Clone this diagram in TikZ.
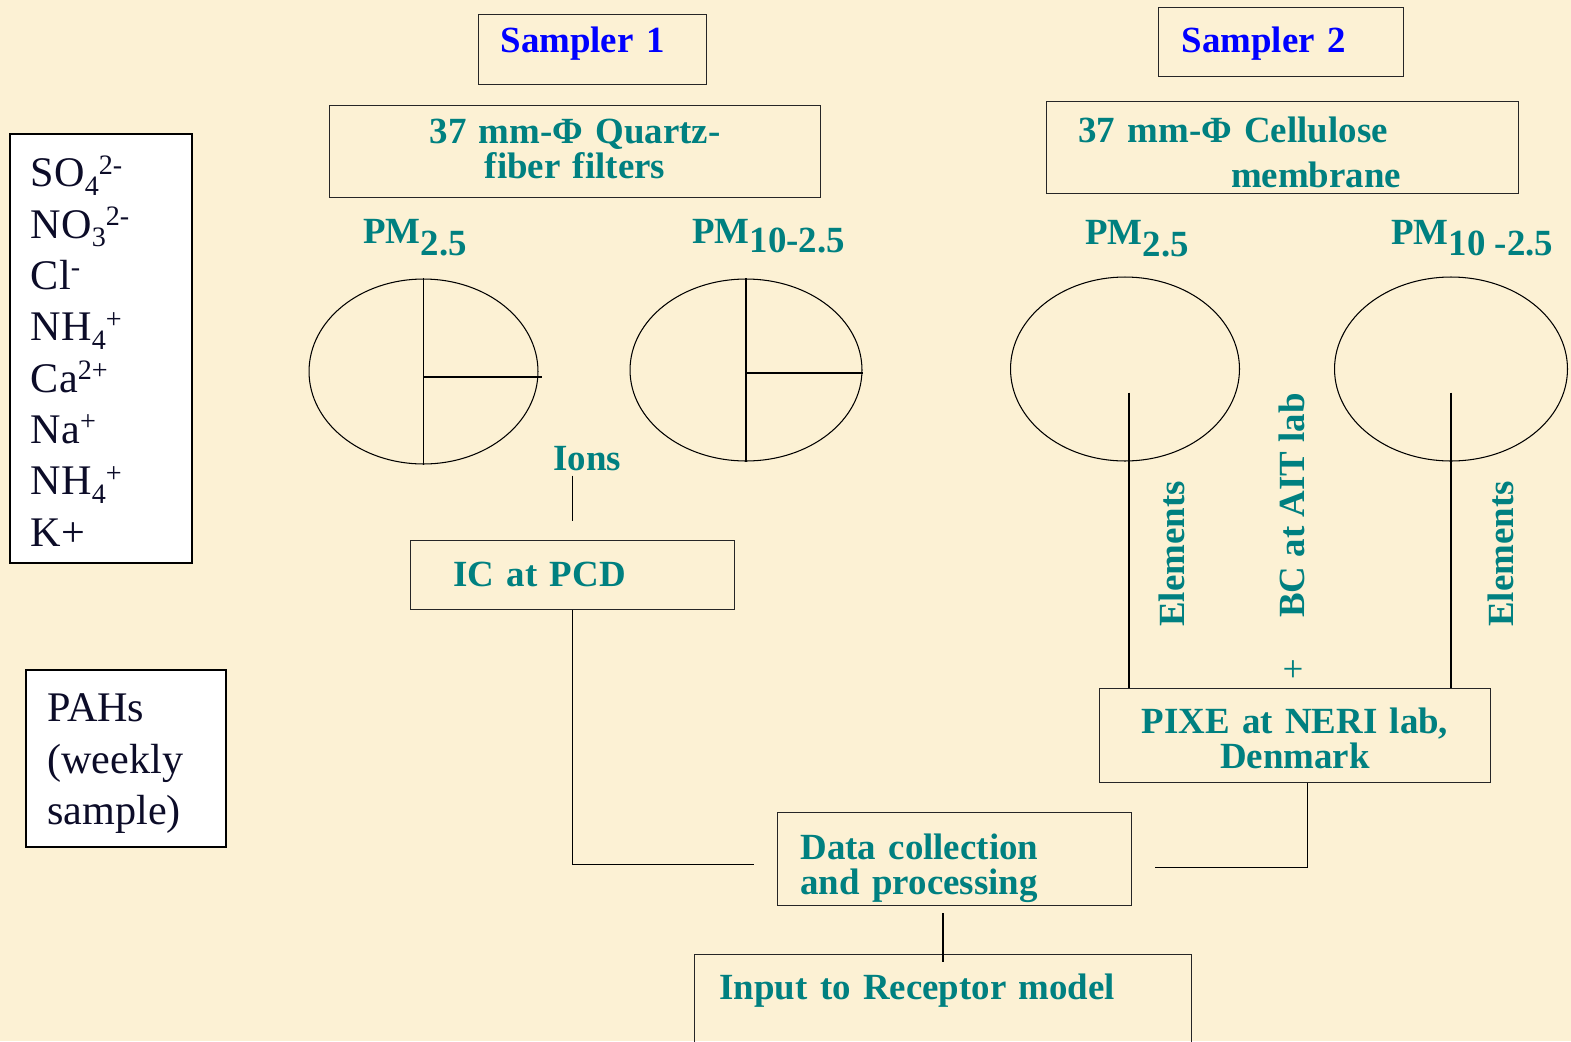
\documentclass[tikz,border=0pt]{standalone}
\usepackage{fontspec}
\setmainfont{Liberation Serif}
\usetikzlibrary{shapes.geometric, positioning}
\definecolor{bgcream}{RGB}{252,241,212}
\definecolor{tealtxt}{RGB}{0,128,128}
\definecolor{inktxt}{RGB}{12,12,40}
\newcommand{\ionsub}[1]{\raisebox{-0.2em}{\fontsize{16}{16}\selectfont #1}}
\newcommand{\ionsup}[1]{\raisebox{0.3em}{\fontsize{16}{16}\selectfont #1}}
\tikzstyle{boxnode} = [rectangle, draw=black!85, line width=0.6pt, anchor=north west, inner ysep=0pt]
\tikzstyle{listbox} = [boxnode, draw=black, line width=1.1pt, fill=white, align=left, text=inktxt, font=\fontsize{24}{29.2}\selectfont]
\tikzstyle{samplertext} = [text=blue, font=\bfseries\fontsize{21}{20}\selectfont]
\tikzstyle{tealtext} = [text=tealtxt, font=\bfseries\fontsize{21}{20}\selectfont]
\tikzstyle{disc} = [ellipse, draw=black, line width=0.6pt, inner sep=0pt]
\tikzstyle{wire} = [draw=black, line width=0.6pt]

\begin{document}
\begin{tikzpicture}[x=0.02cm, y=-0.02cm]
        \fill[bgcream] (0,0) rectangle (1571,1041);
        \useasboundingbox (0,0) rectangle (1571,1041);

        % samplers and filters
        \node (sampler1) [boxnode, samplertext, align=left, text width=3.68cm, inner xsep=0.44cm, text height=0.76cm, text depth=0.64cm] at (478,14) {Sampler 1};
        \node (sampler2) [boxnode, samplertext, align=left, text width=3.98cm, inner xsep=0.46cm, text height=0.9cm, text depth=0.48cm] at (1158,7) {Sampler 2};
        \node (quartz) [boxnode, tealtext, align=center, text width=9.82cm, inner xsep=0pt, text height=0.76cm, text depth=1.08cm] at (329,105) {37 mm-Φ Quartz-\\fiber filters};
        \node (cellulose) [boxnode, tealtext, align=left, text width=8.16cm, inner xsep=0.64cm, text height=0.82cm, text depth=1.02cm] at (1046,101) {37 mm-Φ Cellulose\\[0.2cm]\hspace*{3.05cm}membrane};

        % size fractions
        \node (pm1) [tealtext, anchor=base west, inner sep=0pt] at (363,243) {PM\raisebox{-0.33em}{2.5}};
        \node (pm2) [tealtext, anchor=base west, inner sep=0pt] at (692,243) {PM\raisebox{-0.26em}{10-2.5}};
        \node (pm3) [tealtext, anchor=base west, inner sep=0pt] at (1085,244) {PM\raisebox{-0.33em}{2.5}};
        \node (pm4) [tealtext, anchor=base west, inner sep=0pt] at (1391,244) {PM\raisebox{-0.3em}{10 -2.5}};

        \node (e1) [disc, minimum width=4.58cm, minimum height=3.7cm] at (423.5,371.5) {};
        \node (e2) [disc, minimum width=4.64cm, minimum height=3.64cm] at (746,370) {};
        \node (e3) [disc, minimum width=4.58cm, minimum height=3.68cm] at (1125,369) {};
        \node (e4) [disc, minimum width=4.66cm, minimum height=3.68cm] at (1451,369) {};
        \draw [wire] (e1.north) -- (e1.south);
        \draw [wire] ([yshift=-0.11cm]e1.center) -- ([yshift=-0.11cm, xshift=0.06cm]e1.east);
        \draw [wire] (e2.north) -- (e2.south);
        \draw [wire] ([yshift=-0.06cm]e2.center) -- ([yshift=-0.06cm]e2.east);

        % analyses
        \node (ions) [tealtext, anchor=base west, inner sep=0.1cm] at (548,470) {Ions};
        \node (ic) [boxnode, tealtext, align=left, text width=4.76cm, inner xsep=0.86cm, text height=0.92cm, text depth=0.46cm] at (410,540) {IC at PCD};
        \node (elem1) [tealtext, rotate=90, anchor=base west, inner sep=0pt] at (1184,627) {Elements};
        \node (bc) [tealtext, rotate=90, anchor=base west, inner sep=0pt] at (1304,618) {BC at AIT lab};
        \node (elem2) [tealtext, rotate=90, anchor=base west, inner sep=0pt] at (1513,627) {Elements};
        \node (plus) [text=tealtxt, font=\fontsize{21}{21}\selectfont, inner sep=0pt] at (1293,671) {+};
        \node (pixe) [boxnode, tealtext, align=center, text width=7.82cm, inner xsep=0pt, text height=0.9cm, text depth=0.98cm] at (1099,688) {PIXE at NERI lab,\\Denmark};
        \node (data) [boxnode, tealtext, align=left, text width=6.16cm, inner xsep=0.46cm, text height=0.94cm, text depth=0.92cm] at (777,812) {Data collection\\and processing};
        \node (input) [boxnode, tealtext, align=left, text width=8.94cm, inner xsep=0.5cm, text height=0.9cm, text depth=1.5cm] at (694,954) {Input to Receptor model};

        % side lists
        \node (ionlist) [listbox, text width=2.8cm, inner xsep=0.42cm, text height=1.06cm, text depth=7.52cm] at (9,133) {SO\ionsub{4}\ionsup{2-}\\NO\ionsub{3}\ionsup{2-}\\Cl\ionsup{-}\\NH\ionsub{4}\ionsup{+}\\Ca\ionsup{2+}\\Na\ionsup{+}\\NH\ionsub{4}\ionsup{+}\\K+};
        \node (pahs) [listbox, text width=3.14cm, inner xsep=0.43cm, text height=1.04cm, text depth=2.5cm] at (25,669) {PAHs\\(weekly\\sample)};

        % connectors
        \draw [wire, shorten >=0.38cm] (ic.north |- ions.south) -- (ic.north);
        \draw [wire] (ic.south) |- ([xshift=-0.46cm, yshift=-0.1cm]data.west);
        \draw [wire, shorten <=0.47cm] ([xshift=0.08cm]e3.center) -- ([xshift=0.08cm]e3.center |- pixe.north);
        \draw [wire, shorten <=0.47cm] (e4.center) -- (e4.center |- pixe.north);
        \draw [wire] ([xshift=0.25cm]pixe.south) |- ([xshift=0.46cm, yshift=-0.16cm]data.east);
        \draw [wire, shorten <=0.14cm] (input.north |- data.south) -- ([yshift=-0.16cm]input.north);
\end{tikzpicture}
\end{document}
